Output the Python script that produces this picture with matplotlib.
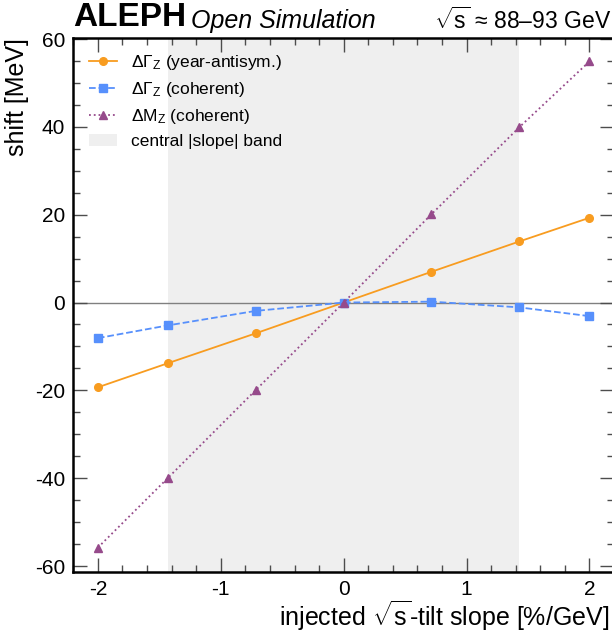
"""ALEPH open simulation: shift of Z lineshape parameters vs injected sqrt(s)-tilt slope."""
import matplotlib

matplotlib.use("Agg")
import matplotlib.pyplot as plt
from matplotlib.ticker import MultipleLocator

plt.rcParams["font.family"] = ["Liberation Sans", "DejaVu Sans"]
plt.rcParams["mathtext.fontset"] = "custom"
plt.rcParams["mathtext.rm"] = "Liberation Sans"
plt.rcParams["mathtext.it"] = "Liberation Sans:italic"
plt.rcParams["axes.unicode_minus"] = False

# injected slope [%/GeV]
slope = [-2.0, -1.4286, -0.7143, 0.0, 0.7143, 1.4286, 2.0]
# shifts [MeV]
dgam_antisym = [-19.3, -13.8, -7.0, 0.0, 7.0, 13.9, 19.3]
dgam_coherent = [-8.1, -5.2, -1.9, 0.0, 0.2, -1.1, -3.1]
dmz_coherent = [-55.8, -39.9, -19.9, 0.0, 20.1, 39.9, 54.9]
band_edge = 1.4286

labels = [r"$\Delta\Gamma_\mathrm{Z}$ (year-antisym.)",
          r"$\Delta\Gamma_\mathrm{Z}$ (coherent)",
          r"$\Delta\mathrm{M}_\mathrm{Z}$ (coherent)",
          "central |slope| band"]

fig = plt.figure(figsize=(6.12, 6.33), dpi=100)
ax = fig.add_axes([0.1198, 0.0968, 0.8835, 0.8436])

ax.axvspan(-band_edge, band_edge, color="#efefef", lw=0, label=labels[3], zorder=0)
ax.axhline(0, color="0.5", lw=1.0, zorder=1)

ax.plot(slope, dgam_antisym, "-o", color="#f89c20", lw=1.3, ms=5.5, label=labels[0], zorder=3)
ax.plot(slope, dgam_coherent, "--s", color="#5790fc", lw=1.3, ms=5.5, label=labels[1], zorder=3)
ax.plot(slope, dmz_coherent, ":^", color="#964a8b", lw=1.3, ms=5.5, label=labels[2], zorder=3)

ax.set_xlim(-2.2, 2.2)
ax.set_ylim(-61.3, 60.3)
ax.xaxis.set_major_locator(MultipleLocator(1))
ax.xaxis.set_minor_locator(MultipleLocator(0.2))
ax.yaxis.set_major_locator(MultipleLocator(20))
ax.yaxis.set_minor_locator(MultipleLocator(5))
ax.tick_params(which="both", direction="in", top=True, right=True, color="0.3",
               labelsize=15, width=1.0)
ax.tick_params(which="major", length=10, pad=6)
ax.tick_params(which="minor", length=5)
for s in ax.spines.values():
    s.set_linewidth(1.8)

ax.set_xlabel(r"injected $\sqrt{\mathrm{s}}$-tilt slope [%/GeV]", fontsize=18)
ax.xaxis.set_label_coords(0.992, -0.051)
ax.xaxis.label.set_ha("right")
ax.set_ylabel("shift [MeV]", fontsize=18, loc="top")

handles, labs = ax.get_legend_handles_labels()
order = [1, 2, 3, 0]
ax.legend([handles[i] for i in order], [labs[i] for i in order], loc="upper left",
          frameon=False, fontsize=12.5, handlelength=1.6, labelspacing=0.45,
          borderaxespad=0.5, handletextpad=0.8)

ax.text(0.0, 1.008, "ALEPH", transform=ax.transAxes, fontsize=24, fontweight="bold",
        ha="left", va="bottom")
ax.text(0.218, 1.008, "Open Simulation", transform=ax.transAxes, fontsize=18,
        style="italic", ha="left", va="bottom")
ax.text(0.994, 1.008, r"$\sqrt{\mathrm{s}}$ ≈ 88–93 GeV", transform=ax.transAxes,
        fontsize=16.5, ha="right", va="bottom")

fig.savefig("out.png", dpi=100)
